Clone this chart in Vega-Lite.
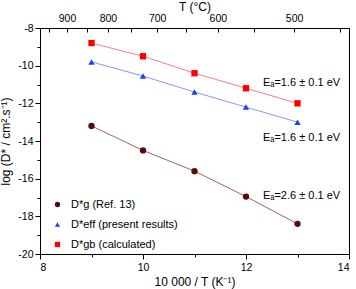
{
  "$schema": "https://vega.github.io/schema/vega-lite/v6.json",
  "width": 309,
  "height": 226,
  "autosize": {"type": "none"},
  "padding": {"left": 40, "top": 28, "right": 7, "bottom": 35},
  "config": {
    "font": "Liberation Sans",
    "view": {"stroke": "black", "strokeWidth": 1},
    "axis": {"domainColor": "black", "tickColor": "black", "labelColor": "black", "titleColor": "black", "grid": false, "labelFontSize": 10.5, "titleFontSize": 11.5, "titleFontWeight": "normal", "labelFont": "Liberation Sans", "titleFont": "Liberation Sans"}
  },
  "datasets": {
    "pts": [
      {"series": "Dg", "x": 9, "y": -13.2},
      {"series": "Dg", "x": 10, "y": -14.5},
      {"series": "Dg", "x": 11, "y": -15.6},
      {"series": "Dg", "x": 12, "y": -16.95},
      {"series": "Dg", "x": 13, "y": -18.4},
      {"series": "Deff", "x": 9, "y": -9.8},
      {"series": "Deff", "x": 10, "y": -10.55},
      {"series": "Deff", "x": 11, "y": -11.4},
      {"series": "Deff", "x": 12, "y": -12.2},
      {"series": "Deff", "x": 13, "y": -13.0},
      {"series": "Dgb", "x": 9, "y": -8.8},
      {"series": "Dgb", "x": 10, "y": -9.5},
      {"series": "Dgb", "x": 11, "y": -10.4},
      {"series": "Dgb", "x": 12, "y": -11.2},
      {"series": "Dgb", "x": 13, "y": -12.0}
    ],
    "notes": [
      {"x": 12.33, "y": -10.9, "label": "Eₐ=1.6 ± 0.1 eV"},
      {"x": 12.33, "y": -13.85, "label": "Eₐ=1.6 ± 0.1 eV"},
      {"x": 12.33, "y": -16.9, "label": "Eₐ=2.6 ± 0.1 eV"}
    ]
  },
  "layer": [
    {
      "data": {"name": "pts"},
      "transform": [{"filter": "datum.series == 'Dg'"}],
      "mark": {"type": "line", "strokeWidth": 1, "color": "#a06464"},
      "encoding": {
        "x": {"field": "x", "type": "quantitative", "scale": {"domain": [8, 14], "nice": false, "zero": false},
          "axis": {"orient": "bottom", "values": [8, 9, 10, 11, 12, 13, 14], "labelExpr": "datum.value % 2 == 0 ? toString(datum.value) : ''", "title": "10 000 / T (K⁻¹)", "tickSize": {"condition": {"test": "datum.value % 2 != 0", "value": 3}, "value": 5}, "labelPadding": 3, "titlePadding": 4, "titleFontSize": 12}},
        "y": {"field": "y", "type": "quantitative", "scale": {"domain": [-20, -8], "nice": false, "zero": false},
          "axis": {"orient": "left", "values": [-20, -19, -18, -17, -16, -15, -14, -13, -12, -11, -10, -9, -8], "labelExpr": "datum.value % 2 == 0 ? toString(datum.value) : ''", "title": "log (D* / cm².s⁻¹)", "tickSize": {"condition": {"test": "datum.value % 2 != 0", "value": 3}, "value": 5}, "labelPadding": 2, "titlePadding": 5, "titleFontSize": 12}}
      }
    },
    {
      "data": {"name": "pts"},
      "transform": [{"filter": "datum.series == 'Deff'"}],
      "mark": {"type": "line", "strokeWidth": 1, "color": "#8c96ff"},
      "encoding": {
        "x": {"field": "x", "type": "quantitative", "axis": null},
        "y": {"field": "y", "type": "quantitative", "axis": null}
      }
    },
    {
      "data": {"name": "pts"},
      "transform": [{"filter": "datum.series == 'Dgb'"}],
      "mark": {"type": "line", "strokeWidth": 1, "color": "#ff7d7d"},
      "encoding": {
        "x": {"field": "x", "type": "quantitative", "axis": null},
        "y": {"field": "y", "type": "quantitative", "axis": null}
      }
    },
    {
      "data": {"name": "pts"},
      "mark": {"type": "point", "filled": true, "size": 40, "opacity": 1},
      "encoding": {
        "x": {"field": "x", "type": "quantitative", "axis": null},
        "y": {"field": "y", "type": "quantitative", "axis": null},
        "color": {"field": "series", "type": "nominal", "scale": {"domain": ["Dg", "Deff", "Dgb"], "range": ["#5a0a0a", "#1a3cff", "#ff0000"]},
          "legend": {"orient": "none", "legendX": 12, "legendY": 171, "title": null, "labelExpr": "datum.value == 'Dg' ? 'D*g  (Ref. 13)' : datum.value == 'Deff' ? 'D*eff (present results)' : 'D*gb  (calculated)'", "labelFontSize": 11, "rowPadding": 8, "symbolSize": 28, "labelColor": "black", "labelFont": "Liberation Sans", "labelOffset": 8}},
        "shape": {"field": "series", "type": "nominal", "scale": {"domain": ["Dg", "Deff", "Dgb"], "range": ["circle", "triangle-up", "square"]}}
      }
    },
    {
      "data": {"name": "notes"},
      "mark": {"type": "text", "align": "left", "baseline": "middle", "fontSize": 11, "font": "Liberation Sans", "color": "black"},
      "encoding": {
        "x": {"field": "x", "type": "quantitative", "axis": null},
        "y": {"field": "y", "type": "quantitative", "axis": null},
        "text": {"field": "label"}
      }
    },
    {
      "data": {"name": "pts"},
      "mark": {"type": "point", "opacity": 0},
      "encoding": {
        "x": {"field": "x", "type": "quantitative",
          "axis": {"orient": "top", "values": [8.1756, 8.5241, 8.9035, 9.3184, 9.7737, 10.2759, 10.8325, 11.4528, 12.1485, 12.9341, 13.8284], "labelExpr": "round(10000 / datum.value - 273.15) % 100 == 0 ? toString(round(10000 / datum.value - 273.15)) : ''", "title": "T (°C)", "tickSize": -4, "labelPadding": 9, "titlePadding": 0, "titleFontSize": 12}},
        "y": {"field": "y", "type": "quantitative", "axis": null}
      }
    }
  ],
  "resolve": {"axis": {"x": "independent", "y": "independent"}}
}
